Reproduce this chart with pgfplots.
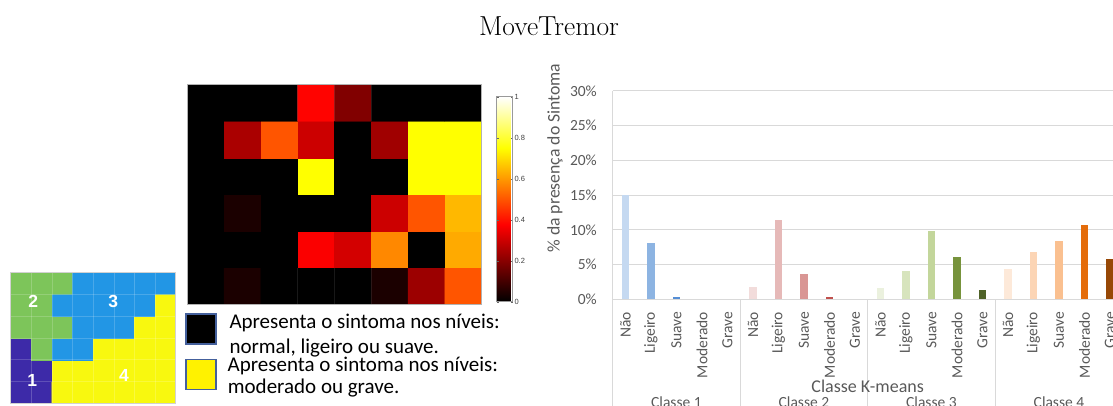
\documentclass[border=0pt]{standalone}
\usepackage{pgfplots}
\pgfplotsset{compat=1.18}
\usepackage{fontspec}
\newfontfamily\carlito{Carlito}
\newfontfamily\lsans{Liberation Sans}
\definecolor{labgray}{HTML}{595959}
\definecolor{gridgray}{HTML}{D9D9D9}
\definecolor{legblue}{HTML}{44609C}
\definecolor{aA}{HTML}{C5D9F1}\definecolor{aB}{HTML}{8DB4E2}\definecolor{aC}{HTML}{558ED5}
\definecolor{bA}{HTML}{F2DCDB}\definecolor{bB}{HTML}{E6B9B8}\definecolor{bC}{HTML}{D99694}\definecolor{bD}{HTML}{C0504D}
\definecolor{cA}{HTML}{EBF1DE}\definecolor{cB}{HTML}{D7E4BD}\definecolor{cC}{HTML}{C3D69B}\definecolor{cD}{HTML}{77933C}\definecolor{cE}{HTML}{4F6228}
\definecolor{dA}{HTML}{FDE9D9}\definecolor{dB}{HTML}{FCD5B5}\definecolor{dC}{HTML}{FAC090}\definecolor{dD}{HTML}{E46C0A}\definecolor{dE}{HTML}{974806}

\pgfplotstableread{
x y c
1 1 1
2 1 1
3 1 4
4 1 4
5 1 4
6 1 4
7 1 4
8 1 4
1 2 1
2 2 1
3 2 4
4 2 4
5 2 4
6 2 4
7 2 4
8 2 4
1 3 1
2 3 2
3 3 3
4 3 3
5 3 4
6 3 4
7 3 4
8 3 4
1 4 2
2 4 2
3 4 2
4 4 3
5 4 3
6 4 3
7 4 4
8 4 4
1 5 2
2 5 2
3 5 3
4 5 3
5 5 3
6 5 3
7 5 3
8 5 4
1 6 2
2 6 2
3 6 2
4 6 3
5 6 3
6 6 3
7 6 3
8 6 3
}\clustertable

\pgfplotstableread{
x y c
1 1 0
2 1 0.04
3 1 0
4 1 0
5 1 0
6 1 0.04
7 1 0.23
8 1 0.5
1 2 0
2 2 0
3 2 0
4 2 0.37
5 2 0.31
6 2 0.575
7 2 0
8 2 0.625
1 3 0
2 3 0.04
3 3 0
4 3 0
5 3 0
6 3 0.3
7 3 0.5
8 3 0.646
1 4 0
2 4 0
3 4 0
4 4 0.75
5 4 0
6 4 0
7 4 0.75
8 4 0.75
1 5 0
2 5 0.25
3 5 0.5
4 5 0.3
5 5 0
6 5 0.235
7 5 0.75
8 5 0.75
1 6 0
2 6 0
3 6 0
4 6 0.38
5 6 0.19
6 6 0
7 6 0
8 6 0
}\heattable

\begin{document}
\begin{tikzpicture}
\useasboundingbox (0bp,0bp) rectangle (1113bp,406bp);
\clip (0bp,0bp) rectangle (1113bp,406bp);

% title
\node[font=\fontsize{27.5bp}{30bp}\selectfont] at (549bp,379.3bp) {MoveTremor};

% cluster map
\begin{axis}[at={(10.7bp,2.7bp)}, anchor=south west, scale only axis,
  width=165bp, height=130.6bp,
  xmin=0.5, xmax=8.5, ymin=0.5, ymax=6.5,
  colormap={clus}{rgb255=(61,42,168) rgb255=(125,197,90) rgb255=(33,150,230) rgb255=(248,248,15)},
  point meta min=1, point meta max=4,
  xtick={1.5,2.5,3.5,4.5,5.5,6.5,7.5}, ytick={1.5,2.5,3.5,4.5,5.5},
  tick label style={opacity=0}, major tick length=0pt,
  grid=major, grid style={white, opacity=0.18, line width=0.6bp},
  axis on top, axis line style={draw=black!18, line width=1bp}]
\addplot[matrix plot*, mesh/cols=8, mesh/rows=6, point meta=explicit] table[x=x, y=y, meta=c] {\clustertable};
\end{axis}
\begin{scope}[every node/.style={font=\lsans\bfseries\fontsize{17.5bp}{18bp}\selectfont, text=white}]
\node at (33.3bp,104.3bp) {2};
\node at (113.3bp,104.3bp) {3};
\node at (32.3bp,26bp) {1};
\node at (124bp,31bp) {4};
\end{scope}

% heat map
\begin{axis}[at={(187.3bp,101.7bp)}, anchor=south west, scale only axis,
  width=294.4bp, height=219.6bp,
  xmin=0.5, xmax=8.5, ymin=0.5, ymax=6.5,
  colormap={hot}{rgb=(0,0,0) rgb=(0.3333,0,0) rgb=(0.6667,0,0) rgb=(1,0,0) rgb=(1,0.3333,0) rgb=(1,0.6667,0) rgb=(1,1,0) rgb=(1,1,0.5) rgb=(1,1,1)},
  point meta min=0, point meta max=1,
  xtick=\empty, ytick=\empty,
  axis on top, axis line style={draw=black!30, line width=1bp},
  colorbar,
  colorbar style={at={(parent axis.south east)}, anchor=south west,
    xshift=6.6bp, yshift=2.6bp, scale only axis, width=16bp, height=205bp,
    ytick={0,0.2,0.4,0.6,0.8,1}, yticklabels={0,0.2,0.4,0.6,0.8,1},
    yticklabel style={font=\lsans\fontsize{7.5bp}{8bp}\selectfont, text=black!75, inner sep=1.5bp},
    axis line style={draw=black!40, line width=0.8bp},
    major tick length=2bp, tick style={black!60}}]
\addplot[matrix plot*, mesh/cols=8, mesh/rows=6, point meta=explicit] table[x=x, y=y, meta=c] {\heattable};
\end{axis}

% legend of heat map
\draw[fill=black, draw=legblue, line width=1.5bp] (186bp,62bp) rectangle (216bp,92bp);
\draw[fill=yellow, draw=legblue, line width=1.5bp] (186bp,16.7bp) rectangle (216bp,46.7bp);
\begin{scope}[every node/.style={anchor=base west, inner sep=0pt, font=\carlito\fontsize{21bp}{24bp}\selectfont}]
\node at (229.3bp,77.7bp) {Apresenta o sintoma nos níveis:};
\node at (229.3bp,52.7bp) {normal, ligeiro ou suave.};
\node at (227.5bp,34.3bp) {Apresenta o sintoma nos níveis:};
\node at (227.7bp,12.7bp) {moderado ou grave.};
\end{scope}

% bar chart
\begin{axis}[at={(612.7bp,106.7bp)}, anchor=south west, scale only axis,
  width=510bp, height=208.3bp, clip=false,
  xmin=-0.5, xmax=19.5, ymin=0, ymax=30,
  axis line style={draw=none},
  ymajorgrids=true, grid style={draw=gridgray, line width=1bp},
  major tick length=0pt,
  ytick={0,5,10,15,20,25,30},
  yticklabels={0\%,5\%,10\%,15\%,20\%,25\%,30\%},
  yticklabel style={font=\carlito\fontsize{15.5bp}{17bp}\selectfont, text=labgray, inner sep=0pt, anchor=east, xshift=-15.7bp},
  xtick={0,...,19},
  xticklabels={Não,Ligeiro,Suave,Moderado,Grave,Não,Ligeiro,Suave,Moderado,Grave,Não,Ligeiro,Suave,Moderado,Grave,Não,Ligeiro,Suave,Moderado,Grave},
  xticklabel style={font=\carlito\fontsize{15.5bp}{17bp}\selectfont, text=labgray, inner sep=0pt, yshift=-12.4bp, rotate=90, anchor=east},
  xlabel={Classe K-means},
  xlabel style={at={(axis description cs:0.5,0)}, anchor=center, yshift=-87.2bp, font=\carlito\fontsize{18bp}{20bp}\selectfont, text=labgray},
  ylabel={\% da presença do Sintoma},
  ylabel style={at={(axis description cs:-0.1131,0.678)}, anchor=center, font=\carlito\fontsize{17.7bp}{20bp}\selectfont, text=labgray}]
\addplot[ybar, bar width=7.5bp, draw=none, fill=aA] coordinates {(0,15.0)};
\addplot[ybar, bar width=7.5bp, draw=none, fill=aB] coordinates {(1,8.07)};
\addplot[ybar, bar width=7.5bp, draw=none, fill=aC] coordinates {(2,0.33)};
\addplot[ybar, bar width=7.5bp, draw=none, fill=bA] coordinates {(5,1.77)};
\addplot[ybar, bar width=7.5bp, draw=none, fill=bB] coordinates {(6,11.4)};
\addplot[ybar, bar width=7.5bp, draw=none, fill=bC] coordinates {(7,3.65)};
\addplot[ybar, bar width=7.5bp, draw=none, fill=bD] coordinates {(8,0.33)};
\addplot[ybar, bar width=7.5bp, draw=none, fill=cA] coordinates {(10,1.63)};
\addplot[ybar, bar width=7.5bp, draw=none, fill=cB] coordinates {(11,4.13)};
\addplot[ybar, bar width=7.5bp, draw=none, fill=cC] coordinates {(12,9.83)};
\addplot[ybar, bar width=7.5bp, draw=none, fill=cD] coordinates {(13,6.14)};
\addplot[ybar, bar width=7.5bp, draw=none, fill=cE] coordinates {(14,1.29)};
\addplot[ybar, bar width=7.5bp, draw=none, fill=dA] coordinates {(15,4.32)};
\addplot[ybar, bar width=7.5bp, draw=none, fill=dB] coordinates {(16,6.8)};
\addplot[ybar, bar width=7.5bp, draw=none, fill=dC] coordinates {(17,8.35)};
\addplot[ybar, bar width=7.5bp, draw=none, fill=dD] coordinates {(18,10.7)};
\addplot[ybar, bar width=7.5bp, draw=none, fill=dE] coordinates {(19,5.8)};
\draw[gridgray, line width=1bp] (axis cs:-0.5,30) -- (axis cs:-0.5,0) -- ++(0pt,-110bp);
\draw[gridgray, line width=1bp] (axis cs:4.5,0) -- ++(0pt,-110bp);
\draw[gridgray, line width=1bp] (axis cs:9.5,0) -- ++(0pt,-110bp);
\draw[gridgray, line width=1bp] (axis cs:14.5,0) -- ++(0pt,-110bp);
\begin{scope}[every node/.style={font=\carlito\fontsize{15.5bp}{17bp}\selectfont, text=labgray}]
\node[yshift=-102.7bp] at (axis cs:2,0) {Classe 1};
\node[yshift=-102.7bp] at (axis cs:7,0) {Classe 2};
\node[yshift=-102.7bp] at (axis cs:12,0) {Classe 3};
\node[yshift=-102.7bp] at (axis cs:17,0) {Classe 4};
\end{scope}
\end{axis}
\end{tikzpicture}
\end{document}
